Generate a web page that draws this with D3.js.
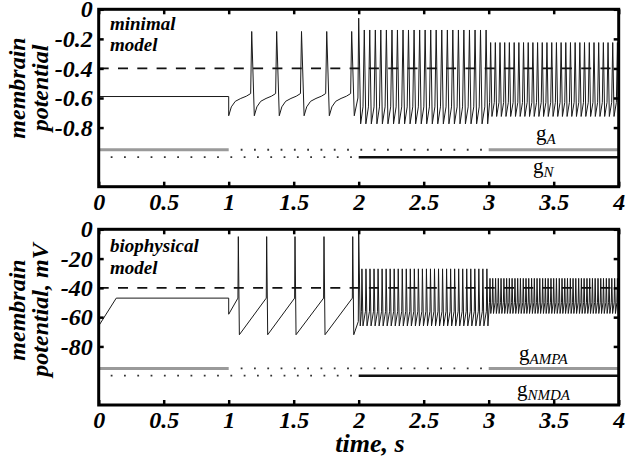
<!DOCTYPE html>
<html>
<head>
<meta charset="utf-8">
<script src="https://cdn.jsdelivr.net/npm/d3@7"></script>
<style>
  body { margin: 0; background: #fff; }
  svg { display: block; }
</style>
</head>
<body>
<script>
const FONT = "'Liberation Serif', 'Times New Roman', serif";

// shared time axis
const xTicks = [0, 0.5, 1, 1.5, 2, 2.5, 3, 3.5, 4];
const xTickLabels = ["0", "0.5", "1", "1.5", "2", "2.5", "3", "3.5", "4"];

// y ticks of each panel
const minYTicks = [0, -0.2, -0.4, -0.6, -0.8];
const minYTickLabels = ["0", "-0.2", "-0.4", "-0.6", "-0.8"];
const bioYTicks = [0, -20, -40, -60, -80];
const bioYTickLabels = ["0", "-20", "-40", "-60", "-80"];

// threshold (dashed) levels
const minThreshold = -0.4;
const bioThreshold = -40;

// conductance switching: start, end, on (1) / off (0)
const gFastStart = [0, 1, 3];
const gFastEnd = [1, 3, 4];
const gFastOn = [1, 0, 1];
const gSlowStart = [0, 2];
const gSlowEnd = [2, 4];
const gSlowOn = [0, 1];
const minGLevels = [-0.95, -1.0];
const bioGLevels = [-95, -100];

// ---- minimal model trace ----
const minBaseT = [0, 1, 1];
const minBaseV = [-0.59, -0.59, -0.72];
const minSlowTimes = [1.177, 1.369, 1.560, 1.754, 1.946];
const minSlowShape = [[0.12, 0.4], [0.3, 0.65], [0.55, 0.78], [0.8, 0.88]];
const minBurstTimes = [2.000];
const minFastTimes1 = [2.043, 2.085, 2.128, 2.170, 2.213, 2.256, 2.298, 2.341, 2.383, 2.426,
  2.469, 2.511, 2.554, 2.596, 2.639, 2.682, 2.724, 2.767, 2.809, 2.852, 2.895, 2.937, 2.980];
const minFastTimes2 = [3.015, 3.051, 3.087, 3.123, 3.159, 3.196, 3.232, 3.268, 3.304, 3.340,
  3.376, 3.412, 3.448, 3.485, 3.521, 3.557, 3.593, 3.629, 3.665, 3.701, 3.737, 3.774, 3.810,
  3.846, 3.882, 3.918, 3.954, 3.990];

// ---- biophysical model trace ----
const bioBaseT = [0, 0.135, 1, 1];
const bioBaseV = [-66, -47, -47, -58];
const bioSlowTimes = [1.074, 1.292, 1.510, 1.733, 1.954];
const bioBurstTimes = [2.000];
const bioFastTimes1 = [2.025, 2.056, 2.087, 2.118, 2.149, 2.180, 2.211, 2.242, 2.273, 2.304,
  2.335, 2.366, 2.397, 2.428, 2.459, 2.490, 2.521, 2.552, 2.583, 2.614, 2.645, 2.676, 2.707,
  2.738, 2.769, 2.800, 2.831, 2.862, 2.893, 2.924, 2.955, 2.986];
const bioFastTimes2 = [3.010, 3.031, 3.053, 3.074, 3.095, 3.117, 3.138, 3.159, 3.180, 3.202,
  3.223, 3.244, 3.266, 3.287, 3.308, 3.330, 3.351, 3.372, 3.393, 3.415, 3.436, 3.457, 3.479,
  3.500, 3.521, 3.543, 3.564, 3.585, 3.606, 3.628, 3.649, 3.670, 3.692, 3.713, 3.734, 3.756,
  3.777, 3.798, 3.819, 3.841, 3.862, 3.883, 3.905, 3.926, 3.947, 3.969, 3.990];

// turn base points + spike lists into a polyline
function buildTrace(baseT, baseV, segs) {
  const pts = baseT.map((t, i) => [t, baseV[i]]);
  segs.forEach((s) => {
    s.times.forEach((ts) => {
      const [t0, v0] = pts[pts.length - 1];
      const t1 = ts - s.rise;
      s.shape.forEach(([f, g]) => pts.push([t0 + f * (t1 - t0), v0 + g * (s.thresh - v0)]));
      pts.push([t1, s.thresh]);
      pts.push([ts, s.peak]);
      pts.push([ts + s.fall, s.trough]);
    });
  });
  return pts;
}

const minTrace = buildTrace(minBaseT, minBaseV, [
  { times: minSlowTimes, thresh: -0.57, peak: -0.15, trough: -0.72, rise: 0.008, fall: 0.02, shape: minSlowShape },
  { times: minBurstTimes, thresh: -0.6, peak: -0.06, trough: -0.775, rise: 0.006, fall: 0.015, shape: [] },
  { times: minFastTimes1, thresh: -0.66, peak: -0.14, trough: -0.775, rise: 0.01, fall: 0.012, shape: [] },
  { times: minFastTimes2, thresh: -0.63, peak: -0.225, trough: -0.725, rise: 0.008, fall: 0.01, shape: [] }
]);

const bioTrace = buildTrace(bioBaseT, bioBaseV, [
  { times: bioSlowTimes, thresh: -47, peak: -5, trough: -72, rise: 0.003, fall: 0.008, shape: [] },
  { times: bioBurstTimes, thresh: -63, peak: -3, trough: -66, rise: 0.003, fall: 0.012, shape: [] },
  { times: bioFastTimes1, thresh: -56, peak: -27, trough: -66, rise: 0.004, fall: 0.008, shape: [] },
  { times: bioFastTimes2, thresh: -50, peak: -33.5, trough: -57.5, rise: 0.004, fall: 0.006, shape: [] }
]);

const w = 630;
const h = 461;

const svg = d3.select("body").append("svg").attr("width", w).attr("height", h);

const x = d3.scaleLinear().domain([0, 4]).range([98.7, 618.7]);

function styleAxis(sel) {
  sel.select(".domain").remove();
  sel.attr("font-family", FONT).attr("font-size", 24);
  sel.selectAll("line").attr("stroke", "#000").attr("stroke-width", 2.5);
  sel.selectAll("text").attr("font-weight", "bold").attr("font-style", "italic").attr("fill", "#000");
}

function drawPanel(p) {
  const y = d3.scaleLinear().domain(p.yDomain).range([p.bottom, p.top]);
  const g = svg.append("g");

  // membrane potential trace
  g.append("path")
    .datum(p.trace)
    .attr("d", d3.line().x((d) => x(d[0])).y((d) => y(d[1])))
    .attr("fill", "none")
    .attr("stroke", "#1a1a1a")
    .attr("stroke-width", 1);

  // threshold
  g.append("line")
    .attr("x1", x(0)).attr("x2", x(4))
    .attr("y1", y(p.threshold)).attr("y2", y(p.threshold))
    .attr("stroke", "#111")
    .attr("stroke-width", 1.8)
    .attr("stroke-dasharray", "10,9.3");

  // conductance bars
  function gBar(starts, ends, ons, level, color, width) {
    starts.forEach((s, i) => {
      const ln = g.append("line")
        .attr("x1", x(s) + (ons[i] ? 0 : 12)).attr("x2", x(ends[i]))
        .attr("y1", y(level)).attr("y2", y(level));
      if (ons[i]) {
        ln.attr("stroke", color).attr("stroke-width", width);
      } else {
        ln.attr("stroke", "#333").attr("stroke-width", 1.8).attr("stroke-dasharray", "1.8,11.5");
      }
    });
  }
  gBar(gFastStart, gFastEnd, gFastOn, p.gLevels[0], "#9a9a9a", 3);
  gBar(gSlowStart, gSlowEnd, gSlowOn, p.gLevels[1], "#111", 2.5);

  // axes with inward ticks
  g.append("g")
    .attr("transform", "translate(" + x(0) + ",0)")
    .call(d3.axisLeft(y).tickValues(p.yTicks).tickFormat((d, i) => p.yLabels[i])
      .tickSizeInner(-5).tickSizeOuter(0).tickPadding(6))
    .call(styleAxis);
  g.append("g")
    .attr("transform", "translate(" + x(4) + ",0)")
    .call(d3.axisRight(y).tickValues(p.yTicks).tickFormat(() => "").tickSizeInner(-5).tickSizeOuter(0))
    .call(styleAxis);
  g.append("g")
    .attr("transform", "translate(0," + p.bottom + ")")
    .call(d3.axisBottom(x).tickValues(xTicks).tickFormat((d, i) => xTickLabels[i])
      .tickSizeInner(-5).tickSizeOuter(0).tickPadding(6))
    .call(styleAxis);
  g.append("g")
    .attr("transform", "translate(0," + p.top + ")")
    .call(d3.axisTop(x).tickValues(xTicks).tickFormat(() => "").tickSizeInner(-5).tickSizeOuter(0))
    .call(styleAxis);

  // frame
  g.append("rect")
    .attr("x", x(0)).attr("y", p.top)
    .attr("width", x(4) - x(0)).attr("height", p.bottom - p.top)
    .attr("fill", "none")
    .attr("stroke", "#000")
    .attr("stroke-width", 3);

  // model name
  p.name.forEach((line, i) => {
    g.append("text")
      .attr("x", 110).attr("y", p.nameY[i])
      .attr("font-family", FONT).attr("font-size", 19)
      .attr("font-weight", "bold").attr("font-style", "italic")
      .text(line);
  });

  // y label, two lines
  p.yTitle.forEach((line, i) => {
    g.append("text")
      .attr("transform", "translate(" + [25, 48][i] + "," + p.yTitleY + ") rotate(-90)")
      .attr("text-anchor", "middle")
      .attr("font-family", FONT).attr("font-size", 24)
      .attr("font-weight", "bold").attr("font-style", "italic")
      .text(line);
  });

  // conductance names
  p.gNames.forEach((nm, i) => {
    const t = g.append("text")
      .attr("x", p.gNameX[i]).attr("y", p.gNameY[i])
      .attr("font-family", FONT).attr("font-size", 21);
    t.append("tspan").text("g");
    t.append("tspan").attr("dy", 4).attr("font-size", 15).attr("font-style", "italic").text(nm);
  });
}

drawPanel({
  yDomain: [-1.2, 0], top: 9.3, bottom: 186.7,
  trace: minTrace, threshold: minThreshold, gLevels: minGLevels,
  yTicks: minYTicks, yLabels: minYTickLabels,
  name: ["minimal", "model"], nameY: [29.5, 51],
  yTitle: ["membrain", "potential"], yTitleY: 88,
  gNames: ["A", "N"], gNameX: [536, 533], gNameY: [140, 173]
});

drawPanel({
  yDomain: [-120, 0], top: 229.3, bottom: 405,
  trace: bioTrace, threshold: bioThreshold, gLevels: bioGLevels,
  yTicks: bioYTicks, yLabels: bioYTickLabels,
  name: ["biophysical", "model"], nameY: [251.5, 274],
  yTitle: ["membrain", "potential, mV"], yTitleY: 310,
  gNames: ["AMPA", "NMDA"], gNameX: [519, 517], gNameY: [360, 396]
});

// x axis title
svg.append("text")
  .attr("x", 370).attr("y", 452)
  .attr("text-anchor", "middle")
  .attr("font-family", FONT).attr("font-size", 26)
  .attr("font-weight", "bold").attr("font-style", "italic")
  .text("time, s");
</script>
</body>
</html>
